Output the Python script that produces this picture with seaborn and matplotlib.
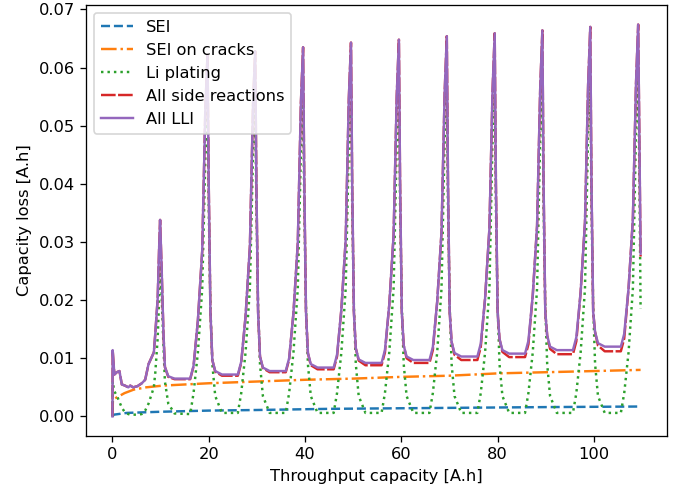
import matplotlib
matplotlib.use("Agg")
import matplotlib.pyplot as plt
import seaborn as sns

# throughput capacity grid shared by plating / side reactions / all LLI [A.h]
throughput = [
    0.0, 0.05, 0.4, 0.9, 1.45, 1.95, 2.6, 3.3, 3.7, 4.3, 5.2, 6.1, 6.8, 7.5, 8.2, 8.6, 8.9, 9.4, 9.7, 9.9,
    10.2, 10.6, 10.9, 11.6, 12.9, 16.15, 16.85, 17.75, 18.65, 19.3, 19.75,
    20.0, 20.35, 20.75, 21.35, 22.75, 26.05, 26.75, 27.65, 28.55, 29.2, 29.65,
    29.9, 30.25, 30.65, 31.25, 32.65, 36.0, 36.7, 37.6, 38.5, 39.15, 39.6,
    39.85, 40.2, 40.6, 41.2, 42.6, 45.95, 46.65, 47.55, 48.45, 49.1, 49.55,
    49.8, 50.15, 50.55, 51.15, 52.55, 55.9, 56.6, 57.5, 58.4, 59.05, 59.5,
    59.75, 60.1, 60.5, 61.1, 62.5, 65.85, 66.55, 67.45, 68.35, 69.0, 69.45,
    69.7, 70.05, 70.45, 71.05, 72.45, 75.8, 76.5, 77.4, 78.3, 78.95, 79.4,
    79.65, 80.0, 80.4, 81.0, 82.4, 85.7, 86.4, 87.3, 88.2, 88.85, 89.3,
    89.55, 89.9, 90.3, 90.9, 92.3, 95.65, 96.35, 97.25, 98.15, 98.8, 99.25,
    99.5, 99.85, 100.25, 100.85, 102.25, 105.6, 106.3, 107.2, 108.1, 108.75, 109.2,
    109.45, 109.7,
]

li_plating = [
    0.0, 0.0060, 0.0043, 0.0036, 0.0025, 0.0015, 0.0007, 0.0004, 0.0003, 0.0003, 0.0003, 0.0004, 0.0010, 0.0022, 0.0040, 0.0050, 0.0075, 0.0135, 0.0200, 0.0260,
    0.0215, 0.0120, 0.0060, 0.0022, 0.0005, 0.0004, 0.0040, 0.0110, 0.0220, 0.0444, 0.0537,
    0.0360, 0.0190, 0.0090, 0.0035, 0.0006, 0.0006, 0.0040, 0.0110, 0.0220, 0.0449, 0.0543,
    0.0360, 0.0190, 0.0090, 0.0035, 0.0006, 0.0006, 0.0040, 0.0110, 0.0220, 0.0455, 0.0549,
    0.0360, 0.0190, 0.0090, 0.0035, 0.0006, 0.0006, 0.0040, 0.0110, 0.0220, 0.0462, 0.0555,
    0.0360, 0.0190, 0.0090, 0.0035, 0.0006, 0.0006, 0.0040, 0.0110, 0.0220, 0.0466, 0.0559,
    0.0360, 0.0190, 0.0090, 0.0035, 0.0006, 0.0006, 0.0040, 0.0110, 0.0220, 0.0471, 0.0563,
    0.0360, 0.0190, 0.0090, 0.0035, 0.0006, 0.0006, 0.0040, 0.0110, 0.0220, 0.0475, 0.0567,
    0.0360, 0.0190, 0.0090, 0.0035, 0.0006, 0.0006, 0.0040, 0.0110, 0.0220, 0.0479, 0.0571,
    0.0360, 0.0190, 0.0090, 0.0035, 0.0006, 0.0006, 0.0040, 0.0110, 0.0220, 0.0485, 0.0575,
    0.0360, 0.0190, 0.0090, 0.0035, 0.0006, 0.0006, 0.0040, 0.0110, 0.0220, 0.0488, 0.0579,
    0.0420, 0.0185,
]

all_side = [
    0.0, 0.0114, 0.0072, 0.0076, 0.0078, 0.0055, 0.0053, 0.0050, 0.0053, 0.0050, 0.0052, 0.0057, 0.0063, 0.0090, 0.0103, 0.0110, 0.0142, 0.0203, 0.0290, 0.0338,
    0.0260, 0.0142, 0.0085, 0.0068, 0.0064, 0.0064, 0.0086, 0.0165, 0.0285, 0.0529, 0.0622,
    0.0400, 0.0180, 0.0097, 0.0077, 0.0070, 0.0070, 0.0092, 0.0172, 0.0292, 0.0534, 0.0628,
    0.0400, 0.0180, 0.0103, 0.0083, 0.0076, 0.0076, 0.0098, 0.0178, 0.0298, 0.0540, 0.0635,
    0.0400, 0.0180, 0.0109, 0.0088, 0.0081, 0.0081, 0.0103, 0.0184, 0.0304, 0.0547, 0.0643,
    0.0400, 0.0180, 0.0117, 0.0096, 0.0088, 0.0088, 0.0110, 0.0192, 0.0312, 0.0551, 0.0648,
    0.0400, 0.0180, 0.0122, 0.0100, 0.0092, 0.0092, 0.0114, 0.0197, 0.0317, 0.0556, 0.0654,
    0.0400, 0.0180, 0.0128, 0.0106, 0.0097, 0.0097, 0.0119, 0.0203, 0.0323, 0.0560, 0.0659,
    0.0400, 0.0180, 0.0133, 0.0111, 0.0102, 0.0102, 0.0124, 0.0208, 0.0328, 0.0564, 0.0664,
    0.0400, 0.0180, 0.0139, 0.0116, 0.0107, 0.0107, 0.0129, 0.0214, 0.0334, 0.0570, 0.0670,
    0.0400, 0.0180, 0.0145, 0.0122, 0.0112, 0.0112, 0.0134, 0.0220, 0.0340, 0.0573, 0.0674,
    0.0475, 0.0275,
]

all_lli = [
    0.0, 0.0114, 0.0072, 0.0076, 0.0078, 0.0055, 0.0053, 0.0050, 0.0053, 0.0050, 0.0052, 0.0057, 0.0063, 0.0090, 0.0103, 0.0110, 0.0142, 0.0203, 0.0290, 0.0338,
    0.0260, 0.0142, 0.0085, 0.0069, 0.0065, 0.0065, 0.0087, 0.0165, 0.0285, 0.0529, 0.0622,
    0.0400, 0.0180, 0.0097, 0.0078, 0.0072, 0.0072, 0.0094, 0.0172, 0.0292, 0.0534, 0.0628,
    0.0400, 0.0180, 0.0103, 0.0084, 0.0078, 0.0078, 0.0100, 0.0178, 0.0298, 0.0540, 0.0635,
    0.0400, 0.0180, 0.0109, 0.0090, 0.0084, 0.0084, 0.0106, 0.0184, 0.0304, 0.0547, 0.0643,
    0.0400, 0.0180, 0.0117, 0.0098, 0.0092, 0.0092, 0.0114, 0.0192, 0.0312, 0.0551, 0.0648,
    0.0400, 0.0180, 0.0122, 0.0103, 0.0097, 0.0097, 0.0119, 0.0197, 0.0317, 0.0556, 0.0654,
    0.0400, 0.0180, 0.0128, 0.0109, 0.0103, 0.0103, 0.0125, 0.0203, 0.0323, 0.0560, 0.0659,
    0.0400, 0.0180, 0.0133, 0.0114, 0.0108, 0.0108, 0.0130, 0.0208, 0.0328, 0.0564, 0.0664,
    0.0400, 0.0180, 0.0139, 0.0120, 0.0114, 0.0114, 0.0136, 0.0214, 0.0334, 0.0570, 0.0670,
    0.0400, 0.0180, 0.0145, 0.0126, 0.0120, 0.0120, 0.0142, 0.0220, 0.0340, 0.0573, 0.0674,
    0.0480, 0.0280,
]

# smooth curves, read on their own coarser grids
sei_x = [0.0, 0.3, 3.0, 10.0, 20.0, 30.0, 45.0, 60.0, 75.0, 90.0, 109.7]
sei = [0.0, 0.0003, 0.0006, 0.0008, 0.0010, 0.0011, 0.0013, 0.0014, 0.0015, 0.0016, 0.0017]

cracks_x = [0.0, 0.1, 1.2, 2.5, 4.4, 7.0, 10.5, 20.0, 30.0, 40.0, 50.0, 60.0, 70.0, 80.0, 90.0, 100.0, 109.7]
sei_cracks = [0.0, 0.0029, 0.0034, 0.0040, 0.0046, 0.0050, 0.0053, 0.0057, 0.0060, 0.0063, 0.0065,
              0.0068, 0.0070, 0.0074, 0.0076, 0.0078, 0.0080]

DPI = 117
fig = plt.figure(figsize=(686 / DPI, 489 / DPI), dpi=DPI)
ax = fig.add_axes([0.1254, 0.1084, 0.8469, 0.8814])

common = dict(ax=ax, estimator=None, sort=False, linewidth=1.5)
sns.lineplot(x=sei_x, y=sei, color="C0", linestyle="dashed", label="SEI", **common)
sns.lineplot(x=cracks_x, y=sei_cracks, color="C1", linestyle="dashdot", label="SEI on cracks", **common)
sns.lineplot(x=throughput, y=li_plating, color="C2", linestyle="dotted", label="Li plating", **common)
sns.lineplot(x=throughput, y=all_side, color="C3", linestyle=(0, (6, 1)), label="All side reactions", **common)
sns.lineplot(x=throughput, y=all_lli, color="C4", linestyle="solid", label="All LLI", **common)

ax.set_xlabel("Throughput capacity [A.h]")
ax.set_ylabel("Capacity loss [A.h]")
ax.legend(loc="upper left")

fig.savefig("out.png", dpi=DPI)
